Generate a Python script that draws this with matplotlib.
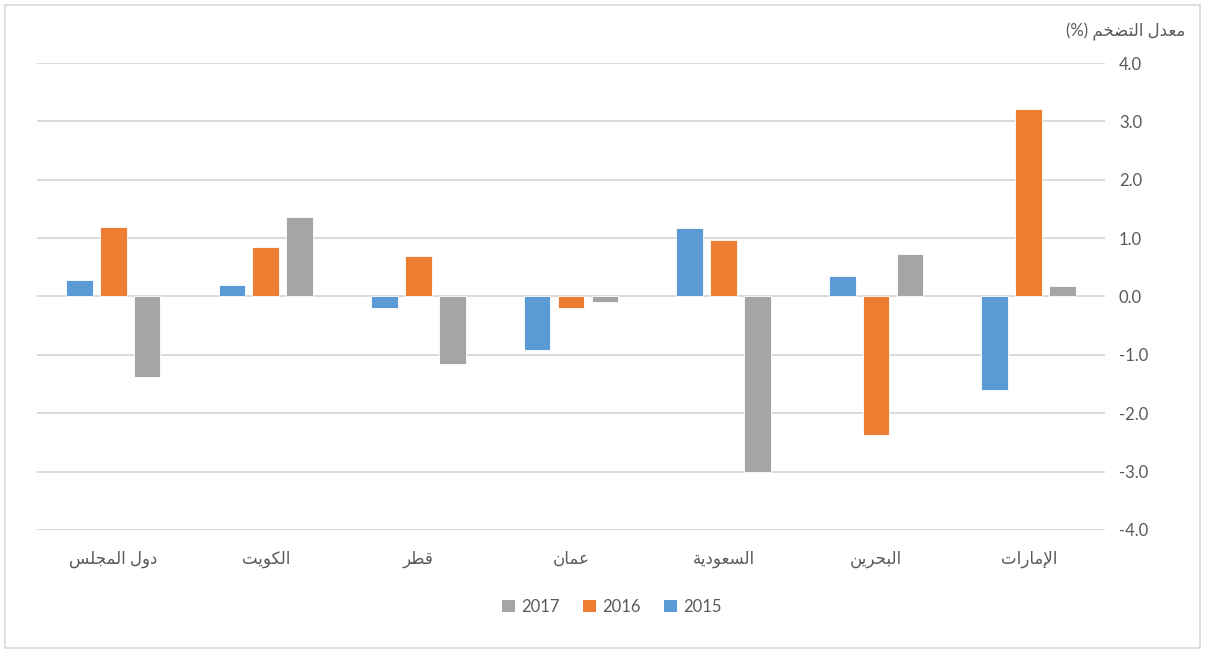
import matplotlib
matplotlib.use("Agg")
import matplotlib.pyplot as plt
from matplotlib.patches import Patch, Rectangle
import numpy as np

plt.rcParams['font.family'] = ['Lato', 'DejaVu Sans']

# categories as they appear from left to right
categories = ["دول المجلس", "الكويت", "قطر", "عمان", "السعودية", "البحرين", "الإمارات"]
y2015 = [0.28, 0.20, -0.20, -0.92, 1.18, 0.35, -1.61]
y2016 = [1.19, 0.85, 0.69, -0.19, 0.97, -2.38, 3.22]
y2017 = [-1.38, 1.36, -1.16, -0.09, -3.00, 0.73, 0.18]
years = ["2015", "2016", "2017"]
yticks = [-4.0, -3.0, -2.0, -1.0, 0.0, 1.0, 2.0, 3.0, 4.0]
y_title = "معدل التضخم (%)"

colors = ["#5B9BD5", "#ED7D31", "#A5A5A5"]
text_col = "#595959"
grid_col = "#D9D9D9"

# minimal arabic shaping (matplotlib does no joining / rtl itself)
FORMS = {
    'ا': ('\uFE8D', '\uFE8E'), 'إ': ('\uFE87', '\uFE88'),
    'ب': ('\uFE8F', '\uFE90', '\uFE91', '\uFE92'), 'ة': ('\uFE93', '\uFE94'),
    'ت': ('\uFE95', '\uFE96', '\uFE97', '\uFE98'), 'ج': ('\uFE9D', '\uFE9E', '\uFE9F', '\uFEA0'),
    'ح': ('\uFEA1', '\uFEA2', '\uFEA3', '\uFEA4'), 'خ': ('\uFEA5', '\uFEA6', '\uFEA7', '\uFEA8'),
    'د': ('\uFEA9', '\uFEAA'), 'ر': ('\uFEAD', '\uFEAE'),
    'س': ('\uFEB1', '\uFEB2', '\uFEB3', '\uFEB4'), 'ض': ('\uFEBD', '\uFEBE', '\uFEBF', '\uFEC0'),
    'ط': ('\uFEC1', '\uFEC2', '\uFEC3', '\uFEC4'), 'ع': ('\uFEC9', '\uFECA', '\uFECB', '\uFECC'),
    'ق': ('\uFED5', '\uFED6', '\uFED7', '\uFED8'), 'ك': ('\uFED9', '\uFEDA', '\uFEDB', '\uFEDC'),
    'ل': ('\uFEDD', '\uFEDE', '\uFEDF', '\uFEE0'), 'م': ('\uFEE1', '\uFEE2', '\uFEE3', '\uFEE4'),
    'ن': ('\uFEE5', '\uFEE6', '\uFEE7', '\uFEE8'), 'و': ('\uFEED', '\uFEEE'),
    'ي': ('\uFEF1', '\uFEF2', '\uFEF3', '\uFEF4'),
    'لا': ('\uFEFB', '\uFEFC'), 'لإ': ('\uFEF9', '\uFEFA'),
}


def shape(text):
    chars = []
    i = 0
    while i < len(text):
        if text[i:i + 2] in FORMS:
            chars.append(text[i:i + 2])
            i += 2
        else:
            chars.append(text[i])
            i += 1
    out = []
    for k, c in enumerate(chars):
        if c not in FORMS:
            out.append({'(': ')', ')': '('}.get(c, c))
            continue
        prev = chars[k - 1] if k > 0 else ''
        nxt = chars[k + 1] if k + 1 < len(chars) else ''
        j_prev = prev in FORMS and len(FORMS[prev]) == 4
        j_next = nxt in FORMS and len(FORMS[c]) == 4
        f = FORMS[c]
        if j_prev and j_next:
            out.append(f[3])
        elif j_next:
            out.append(f[2])
        elif j_prev:
            out.append(f[1])
        else:
            out.append(f[0])
    return ''.join(reversed(out))


fig = plt.figure(figsize=(12.05, 6.53), dpi=100)
ax = fig.add_axes([0.0307, 0.1884, 0.8863, 0.7151])

x = np.arange(len(categories))
w = 0.175
step = 0.222
for i, (vals, c) in enumerate(zip([y2015, y2016, y2017], colors)):
    ax.bar(x + (i - 1) * step, vals, w, color=c, edgecolor="white", linewidth=0.6, zorder=3)

ax.set_xlim(-0.5, len(categories) - 0.5)
ax.set_ylim(-4.0, 4.0)
ax.set_yticks(yticks)
ax.set_yticklabels(["%.1f" % v for v in yticks])
ax.yaxis.tick_right()
ax.grid(axis="y", color=grid_col, linewidth=1.4, zorder=0)
ax.set_axisbelow(True)
ax.set_xticks(x)
ax.set_xticklabels([shape(c) for c in categories])
ax.tick_params(axis="x", length=0, pad=15, labelsize=12, colors=text_col)
ax.tick_params(axis="y", length=0, pad=10, labelsize=12, colors=text_col)
for s in ax.spines.values():
    s.set_visible(False)

fig.text(1185 / 1205, 1 - 32 / 653, shape(y_title), ha="right", va="center",
         fontsize=12, color=text_col)

handles = [Patch(facecolor=colors[i], label=years[i]) for i in [2, 1, 0]]
leg = fig.legend(handles=handles, loc="center", bbox_to_anchor=(612 / 1205, 1 - 607 / 653),
                 ncol=3, frameon=False, fontsize=12, handlelength=0.75, handleheight=0.75,
                 handletextpad=0.4, columnspacing=1.4)
for t in leg.get_texts():
    t.set_color(text_col)

fig.patches.append(Rectangle((5 / 1205, 5 / 653), 1195 / 1205, 643 / 653, transform=fig.transFigure,
                             fill=False, edgecolor=grid_col, linewidth=1.2))

fig.savefig("out.png", dpi=100, facecolor="white")
